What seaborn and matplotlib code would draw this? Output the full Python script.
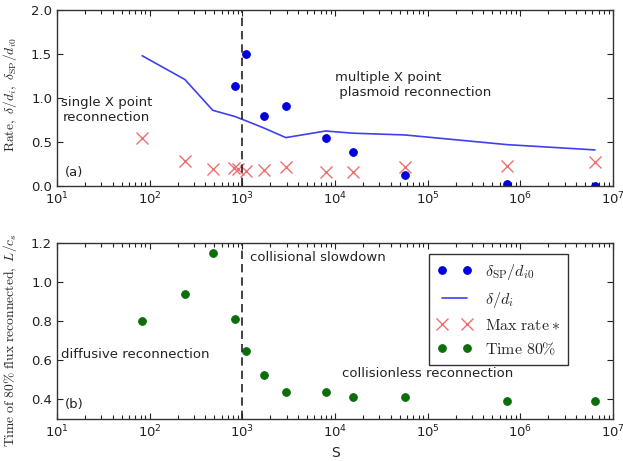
import numpy as np
import pandas as pd
import seaborn as sns
import matplotlib
matplotlib.use("Agg")
import matplotlib.pyplot as plt
from matplotlib.ticker import LogLocator, MultipleLocator, NullFormatter, FixedLocator

# ---- data ----
S = [83, 240, 480, 830, 1100, 1700, 2950, 7900, 15700, 57000, 720000, 6.4e6]
delta_di = [1.48, 1.21, 0.86, 0.79, 0.74, 0.66, 0.55, 0.625, 0.60, 0.58, 0.47, 0.41]
S_sp = [830, 1100, 1700, 2950, 7900, 15700, 57000, 720000, 6.4e6]
delta_sp = [1.14, 1.50, 0.79, 0.91, 0.55, 0.39, 0.13, 0.02, 0.0]
S_rate = [83, 240, 480, 820, 900, 1100, 1700, 2950, 7900, 15700, 57000, 720000, 6.4e6]
max_rate = [0.55, 0.28, 0.19, 0.20, 0.19, 0.17, 0.18, 0.22, 0.16, 0.16, 0.22, 0.23, 0.27]
time80 = [0.80, 0.94, 1.15, 0.81, 0.65, 0.524, 0.44, 0.44, 0.41, 0.41, 0.39, 0.39]

sns.set_theme(style="ticks")
plt.rcParams.update({
    "font.family": ["DejaVu Sans"],
    "mathtext.fontset": "cm",
    "xtick.direction": "in", "ytick.direction": "in",
    "xtick.top": True, "ytick.right": True,
    "xtick.bottom": True, "ytick.left": True,
    "xtick.major.size": 4.5, "ytick.major.size": 4.5,
    "xtick.minor.size": 2.8, "ytick.minor.size": 2.8,
    "xtick.major.width": 0.8, "ytick.major.width": 0.8,
    "xtick.minor.width": 0.8, "ytick.minor.width": 0.8,
    "xtick.color": "#222222", "ytick.color": "#222222",
    "axes.edgecolor": "#333333", "axes.linewidth": 1.0,
    "xtick.labelsize": 9.5, "ytick.labelsize": 9.5,
})

fig = plt.figure(figsize=(6.23, 4.61), dpi=100)
W, H = 623, 461
ax1 = fig.add_axes([57 / W, 1 - 186 / H, 556 / W, 176 / H])
ax2 = fig.add_axes([57 / W, 1 - 419 / H, 556 / W, 176 / H])

df_line = pd.DataFrame({"S": S, "v": delta_di})
df_sp = pd.DataFrame({"S": S_sp, "v": delta_sp})
df_rate = pd.DataFrame({"S": S_rate, "v": max_rate})
df_t = pd.DataFrame({"S": S, "v": time80})

lab_sp = r"$\delta_{\rm SP}/d_{i0}$"
lab_d = r"$\delta/d_i$"
lab_r = r"$\mathrm{Max\ rate}\ast$"
lab_t = r"$\mathrm{Time\ 80\%}$"

sns.lineplot(data=df_sp, x="S", y="v", ax=ax1, color="#0000dd", marker="o", linestyle="none",
             markersize=5.5, markeredgecolor="#0000dd", label=lab_sp)
sns.lineplot(data=df_line, x="S", y="v", ax=ax1, color="#4040ee", linewidth=1.2, label=lab_d)
sns.lineplot(data=df_rate, x="S", y="v", ax=ax1, color="#ee6f6f", marker="x", linestyle="none",
             markersize=9, markeredgewidth=1.0, markeredgecolor="#ee6f6f", label=lab_r)
sns.lineplot(data=df_t, x="S", y="v", ax=ax2, color="#0b6e0b", marker="o", linestyle="none",
             markersize=5.5, markeredgecolor="#0b6e0b", label=lab_t)

minor_pos = [m * 10.0 ** e for e in range(1, 7) for m in range(2, 10)]
for ax in (ax1, ax2):
    ax.set_xscale("log")
    ax.set_xlim(10, 1e7)
    ax.axvline(1000, color="#222222", linestyle=(0, (5, 3)), linewidth=1.2)
    ax.xaxis.set_major_locator(LogLocator(base=10, numticks=10))
    ax.xaxis.set_minor_locator(FixedLocator(minor_pos))
    ax.xaxis.set_minor_formatter(NullFormatter())
    ax.set_ylabel("")
    ax.set_xlabel("")
    for s in ax.spines.values():
        s.set_visible(True)
    ax.tick_params(axis="x", which="both", direction="in", top=True, bottom=True)
    ax.tick_params(axis="y", which="major", direction="in", left=True, right=True)
    ax.tick_params(axis="y", which="minor", left=False, right=False)

ax1.set_ylim(0, 2.0)
ax1.yaxis.set_major_locator(MultipleLocator(0.5))
ax2.set_ylim(0.3, 1.2)
ax2.set_yticks([0.4, 0.6, 0.8, 1.0, 1.2])

ax1.set_ylabel(r"$\mathrm{Rate,}\ \delta/d_i,\ \delta_{\rm SP}/d_{i0}$", fontsize=9.8)
ax2.set_ylabel(r"$\mathrm{Time\ of\ 80\%\ flux\ reconnected,}\ L/c_s$", fontsize=9.8)
ax1.yaxis.set_label_coords(-0.068, 0.52)
ax2.yaxis.set_label_coords(-0.068, 0.45)
ax2.set_xlabel("S", fontsize=10, labelpad=4)

ax1.legend_.remove()
h1, l1 = ax1.get_legend_handles_labels()
h2, l2 = ax2.get_legend_handles_labels()
leg = ax2.legend(h1 + h2, l1 + l2, loc="upper right", bbox_to_anchor=(0.919, 0.94),
                 borderaxespad=0, numpoints=2, fontsize=11.5, frameon=True, fancybox=False,
                 edgecolor="#333333", framealpha=1, handlelength=2.2, labelspacing=0.5,
                 borderpad=0.5)
leg.get_frame().set_linewidth(1.0)

tk = dict(fontsize=9.5, color="#222222")
ax1.text(0.007, 0.43, "single X point\nreconnection", transform=ax1.transAxes, ha="left",
         va="center", multialignment="center", linespacing=1.2, **tk)
ax1.text(0.50, 0.575, "multiple X point\n plasmoid reconnection", transform=ax1.transAxes,
         ha="left", va="center", linespacing=1.2, **tk)
ax1.text(0.014, 0.074, "(a)", transform=ax1.transAxes, ha="left", va="center", **tk)
ax2.text(0.347, 0.92, "collisional slowdown", transform=ax2.transAxes, ha="left", va="center", **tk)
ax2.text(0.007, 0.364, "diffusive reconnection", transform=ax2.transAxes, ha="left", va="center", **tk)
ax2.text(0.513, 0.256, "collisionless reconnection", transform=ax2.transAxes, ha="left", va="center", **tk)
ax2.text(0.014, 0.08, "(b)", transform=ax2.transAxes, ha="left", va="center", **tk)

fig.savefig("out.png", dpi=100)
